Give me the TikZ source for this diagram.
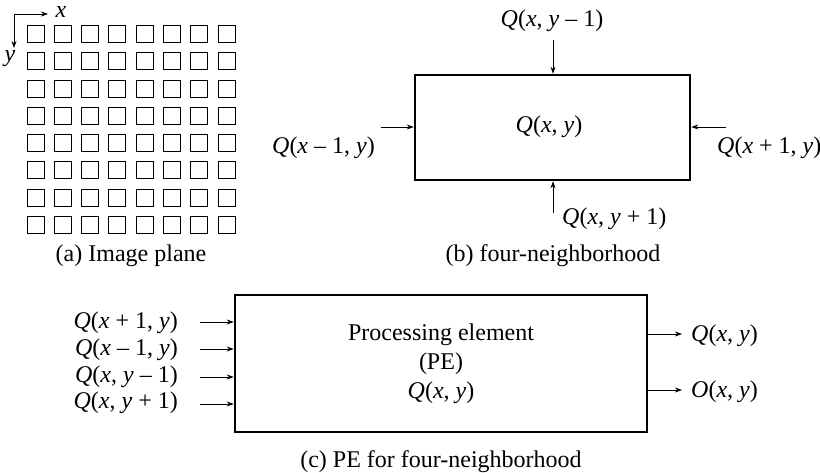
\documentclass[tikz,border=0pt]{standalone}
\usepackage{fontspec}
\setmainfont{Liberation Serif}
\usetikzlibrary{arrows.meta}
\newcommand{\vv}[1]{\textit{#1}}
\begin{document}
\begin{tikzpicture}[x=1pt,y=-1pt,
  every node/.style={font=\fontsize{24}{29}\selectfont, inner sep=0pt},
  cell/.style={draw, line width=1pt, minimum size=17pt},
  pebox/.style={draw, line width=2.6pt, inner sep=0pt},
  arr/.style={line width=0.8pt, -{Stealth[length=7pt,width=5pt]}},
  captext/.style={anchor=base}]
\useasboundingbox (0,0) rectangle (820,473);

% (a) image plane: axes and 8x8 pixel grid
\coordinate (org) at (14,14);
\coordinate (xend) at (48,14);
\coordinate (yend) at (14,48);
\draw[arr] (org) -- (xend);
\draw[arr] (org) -- (yend);
\node (xlab) at (61,12) {\vv{x}};
\node (ylab) at (10,59) {\vv{y}};
\foreach \i in {0,...,7} {
  \foreach \j in {0,...,7} {
    \node[cell] (cell-\i-\j) at ({35.5+27.3*\i},{34+27.3*\j}) {};
  }
}
\node[captext] (capa) at (131,262) {(a) Image plane};

% (b) four-neighborhood
\node[pebox, minimum width=275pt, minimum height=105pt] (nb) at (552.5,127.5) {};
\node (nbc) at (549,127) {\vv{Q}(\vv{x}, \vv{y})};
\node (bt) at (552,21) {\vv{Q}(\vv{x}, \vv{y} – 1)};
\node[anchor=east] (bl) at (375,148) {\vv{Q}(\vv{x} – 1, \vv{y})};
\node[anchor=west] (br) at (717,148) {\vv{Q}(\vv{x} + 1, \vv{y})};
\node[anchor=west] (bb) at (562,219) {\vv{Q}(\vv{x}, \vv{y} + 1)};
\coordinate (btS) at (553,40);
\coordinate (blS) at (381,127);
\coordinate (brS) at (726,127);
\coordinate (bbS) at (553,213);
\draw[arr] (btS) -- (btS |- nb.north);
\draw[arr] (blS) -- (nb.west |- blS);
\draw[arr] (brS) -- (nb.east |- brS);
\draw[arr] (bbS) -- (bbS |- nb.south);
\node[captext] (capb) at (553,262) {(b) four-neighborhood};

% (c) processing element
\node[pebox, minimum width=412pt, minimum height=137pt] (nc) at (441,363.5) {};
\node[align=center] (ncc) at (441,364) {Processing element\\(PE)\\\vv{Q}(\vv{x}, \vv{y})};
\node[anchor=east] (in1) at (178,323) {\vv{Q}(\vv{x} + 1, \vv{y})};
\node[anchor=east] (in2) at (178,350) {\vv{Q}(\vv{x} – 1, \vv{y})};
\node[anchor=east] (in3) at (178,377) {\vv{Q}(\vv{x}, \vv{y} – 1)};
\node[anchor=east] (in4) at (178,403) {\vv{Q}(\vv{x}, \vv{y} + 1)};
\foreach \k/\yy in {1/322,2/349,3/377,4/404} {
  \coordinate (inS\k) at (200,\yy);
  \draw[arr] (inS\k) -- (nc.west |- inS\k);
}
\coordinate (out1) at (682,334);
\coordinate (out2) at (682,390);
\draw[arr] (nc.east |- out1) -- (out1);
\draw[arr] (nc.east |- out2) -- (out2);
\node[anchor=west] (o1) at (691,336) {\vv{Q}(\vv{x}, \vv{y})};
\node[anchor=west] (o2) at (691,392) {\vv{O}(\vv{x}, \vv{y})};
\node[captext] (capc) at (441,467) {(c) PE for four-neighborhood};
\end{tikzpicture}
\end{document}
